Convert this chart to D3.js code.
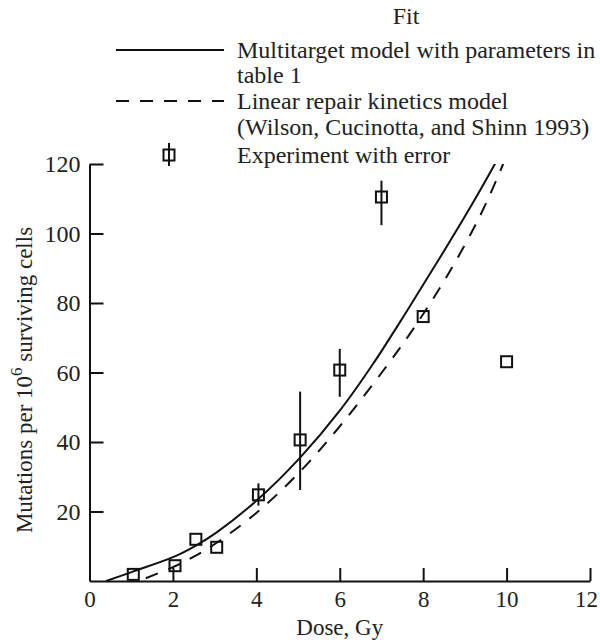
<!DOCTYPE html>
<html>
<head>
<meta charset="utf-8">
<script src="https://cdn.jsdelivr.net/npm/d3@7"></script>
<style>
  body { margin: 0; background: #fff; }
  svg text { font-family: "Liberation Serif", "Times New Roman", serif; fill: #222; }
</style>
</head>
<body>
<svg></svg>
<script>
// dose (Gy) and measured mutations per 10^6 surviving cells
let doses = [1.05, 2.05, 2.55, 3.05, 4.05, 5.05, 6.0, 7.0, 8.0, 10.0];
let mutations = [1.9, 4.4, 12.0, 9.7, 24.8, 40.6, 60.7, 110.5, 76.1, 63.1];
// error bars (only where visible)
let errDoses = [4.05, 5.05, 6.0, 7.0];
let errLow = [21.7, 26.2, 53.0, 102.4];
let errHigh = [28.1, 54.5, 66.8, 115.2];

// fitted curves
let multiDose = [0.4, 1.04, 2.03, 2.55, 3.05, 4.04, 5.05, 6.0, 6.8, 7.6, 8.4, 9.2, 9.72, 9.9];
let multiVal = [0, 2.7, 7.0, 10.2, 14.0, 23.5, 35.5, 49.0, 62.5, 77.5, 93.0, 109.0, 120.0, 124];
let repairDose = [1.35, 2.0, 2.5, 3.05, 4.04, 5.05, 6.0, 7.04, 7.76, 8.56, 9.36, 9.9, 10.05];
let repairVal = [0.8, 4.0, 7.0, 11.0, 20.0, 31.5, 44.5, 60.5, 72.5, 87.5, 105.0, 119.5, 124];

let xTicks = [0, 2, 4, 6, 8, 10, 12];
let yTicks = [20, 40, 60, 80, 100, 120];

let width = 600, height = 640;
let svg = d3.select("svg").attr("width", width).attr("height", height)
  .attr("font-family", "Liberation Serif");

let x = d3.scaleLinear().domain([0, 12]).range([89.5, 590]);
let y = d3.scaleLinear().domain([0, 120]).range([581, 164]);

// axes, ticks pointing inward
let gx = svg.append("g").attr("transform", "translate(0," + y(0) + ")");
gx.call(d3.axisBottom(x).tickValues(d3.range(0.5, 12.01, 0.5)).tickSize(-9).tickSizeOuter(0).tickFormat(""));
gx.call(d3.axisBottom(x).tickValues(xTicks).tickSize(-13).tickSizeOuter(0).tickPadding(9));
gx.selectAll(".tick").filter(d => d === 0).select("line").remove();

let gy = svg.append("g").attr("transform", "translate(" + x(0) + ",0)");
gy.call(d3.axisLeft(y).tickValues(d3.range(5, 120.01, 5)).tickSize(-10).tickSizeOuter(0).tickPadding(9).tickFormat(""));
gy.call(d3.axisLeft(y).tickValues(yTicks).tickSize(-14).tickSizeOuter(0).tickPadding(9));

svg.selectAll(".domain").attr("stroke", "#111").attr("stroke-width", 2);
svg.selectAll(".tick line").attr("stroke", "#111").attr("stroke-width", 2);
svg.selectAll(".tick text").attr("font-size", 24).attr("fill", "#222")
  .style("font-family", "Liberation Serif");
gx.selectAll(".tick text").attr("font-size", 23).attr("dy", "0.72em");
gx.selectAll(".tick").filter(d => d === 12).select("text").attr("dx", -4);

// axis titles
svg.append("text").attr("x", x(6)).attr("y", 635).attr("text-anchor", "middle")
  .attr("font-size", 23).text("Dose, Gy");
let yl = svg.append("text").attr("transform", "translate(32," + 380 + ") rotate(-90)")
  .attr("text-anchor", "middle").attr("font-size", 23);
yl.append("tspan").text("Mutations per 10");
yl.append("tspan").attr("dy", -10).attr("font-size", 17).text("6");
yl.append("tspan").attr("dy", 10).text(" surviving cells");

// clip the curves at the plot top
svg.append("clipPath").attr("id", "clip").append("rect")
  .attr("x", x(0)).attr("y", y(120)).attr("width", x(12) - x(0)).attr("height", y(0) - y(120));

let line = d3.line().x(d => x(d[0])).y(d => y(d[1])).curve(d3.curveCatmullRom);

svg.append("path").datum(d3.zip(multiDose, multiVal))
  .attr("clip-path", "url(#clip)")
  .attr("d", line).attr("fill", "none").attr("stroke", "#111").attr("stroke-width", 2);
svg.append("path").datum(d3.zip(repairDose, repairVal))
  .attr("clip-path", "url(#clip)")
  .attr("d", line).attr("fill", "none").attr("stroke", "#111").attr("stroke-width", 2)
  .attr("stroke-dasharray", "13,11");

// error bars
svg.selectAll(".err").data(d3.range(errDoses.length)).enter().append("line")
  .attr("x1", i => x(errDoses[i])).attr("x2", i => x(errDoses[i]))
  .attr("y1", i => y(errLow[i])).attr("y2", i => y(errHigh[i]))
  .attr("stroke", "#111").attr("stroke-width", 2);

// squares
let sq = 11;
svg.selectAll(".pt").data(d3.zip(doses, mutations)).enter().append("rect")
  .attr("x", d => x(d[0]) - sq / 2).attr("y", d => y(d[1]) - sq / 2)
  .attr("width", sq).attr("height", sq)
  .attr("fill", "none").attr("stroke", "#111").attr("stroke-width", 2);

// legend
let lg = svg.append("g");
let lx0 = 116, lx1 = 224, tx = 237, fs = 24;
lg.append("text").attr("x", 406).attr("y", 24).attr("text-anchor", "middle").attr("font-size", fs).text("Fit");
lg.append("line").attr("x1", lx0).attr("x2", lx1).attr("y1", 50).attr("y2", 50)
  .attr("stroke", "#111").attr("stroke-width", 2);
lg.append("text").attr("x", tx).attr("y", 58).attr("font-size", fs).text("Multitarget model with parameters in");
lg.append("text").attr("x", tx).attr("y", 83).attr("font-size", fs).text("table 1");
lg.append("line").attr("x1", lx0).attr("x2", lx1).attr("y1", 101).attr("y2", 101)
  .attr("stroke", "#111").attr("stroke-width", 2).attr("stroke-dasharray", "13,11");
lg.append("text").attr("x", tx).attr("y", 109).attr("font-size", fs).text("Linear repair kinetics model");
lg.append("text").attr("x", tx).attr("y", 135).attr("font-size", fs).text("(Wilson, Cucinotta, and Shinn 1993)");
lg.append("rect").attr("x", 169 - sq / 2).attr("y", 155 - sq / 2).attr("width", sq).attr("height", sq)
  .attr("fill", "#fff").attr("stroke", "#111").attr("stroke-width", 2);
lg.append("line").attr("x1", 169).attr("x2", 169).attr("y1", 143).attr("y2", 166)
  .attr("stroke", "#111").attr("stroke-width", 2);
lg.append("text").attr("x", tx).attr("y", 163).attr("font-size", fs).text("Experiment with error");
</script>
</body>
</html>
